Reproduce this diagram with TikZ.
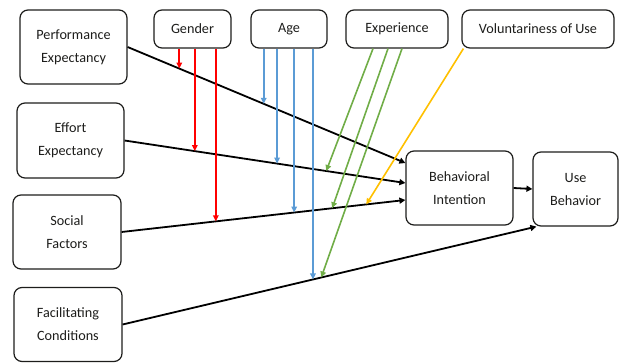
\documentclass[tikz,border=0pt]{standalone}
\usepackage{fontspec}
\setmainfont{Carlito}
\usepackage{tikz}
\usetikzlibrary{arrows.meta,calc}
\definecolor{ink}{HTML}{1D1D1B}
\definecolor{modred}{HTML}{FF0000}
\definecolor{modblue}{HTML}{5B9BD5}
\definecolor{modgreen}{HTML}{70AD47}
\definecolor{modorange}{HTML}{FFC000}
\tikzset{
  box/.style={draw=ink, rounded corners=8pt, align=center, line width=1.2pt, text=ink,
    font=\fontsize{14.2}{23}\selectfont, inner sep=2pt},
  modbox/.style={box, minimum height=38pt},
  arr/.style={-{Triangle[length=6pt,width=6pt]}, line width=1.8pt, draw=black},
  modarr/.style={-{Triangle[length=6pt,width=5.5pt]}, line width=1.6pt, draw=#1},
}

\begin{document}
\begin{tikzpicture}[x=1pt, y=-1pt]
    \useasboundingbox (0,0) rectangle (621,363);
    % constructs
    \node[box, minimum width=107pt, minimum height=74pt] (pe) at (73.5,47) {Performance\\Expectancy};
    \node[box, minimum width=107pt, minimum height=75pt] (ee) at (70.5,140.5) {Effort\\Expectancy};
    \node[box, minimum width=108pt, minimum height=74pt] (sf) at (67,232) {Social\\Factors};
    \node[box, minimum width=108pt, minimum height=74pt] (fc) at (68,324.5) {Facilitating\\Conditions};
    \node[box, minimum width=107pt, minimum height=74pt] (bi) at (459.5,188) {Behavioral\\Intention};
    \node[box, minimum width=85pt, minimum height=74pt] (ub) at (575.5,189) {Use\\Behavior};
    % moderators
    \node[modbox, minimum width=77pt] (gen) at (192.5,29) {Gender};
    \node[modbox, minimum width=76pt] (age) at (289,29) {Age};
    \node[modbox, minimum width=102pt] (exp) at (397,29) {Experience};
    \node[modbox, minimum width=152pt] (vol) at (538,29) {Voluntariness of Use};
    % main paths
    \draw[arr] (pe.east) -- ([yshift=25pt]bi.west)
      coordinate[pos=0.186] (pe1) coordinate[pos=0.49] (pe2);
    \draw[arr] (ee.east) -- ([yshift=5pt]bi.west)
      coordinate[pos=0.25] (ee1) coordinate[pos=0.543] (ee2) coordinate[pos=0.718] (ee3);
    \draw[arr] (sf.east) -- ([yshift=-12pt]bi.west)
      coordinate[pos=0.332] (sf1) coordinate[pos=0.608] (sf2) coordinate[pos=0.742] (sf3)
      coordinate[pos=0.862] (sf4);
    \draw[arr] (fc.east) -- ([xshift=4pt]ub.south west)
      coordinate[pos=0.46] (fc2) coordinate[pos=0.48] (fc3);
    \draw[arr] (bi.east) -- (ub.west);
    % moderating effects
    \foreach \p in {pe1,ee1,sf1} \draw[modarr=modred] (gen.south -| \p) -- (\p);
    \foreach \p in {pe2,ee2,sf2,fc2} \draw[modarr=modblue] (age.south -| \p) -- (\p);
    \foreach \d/\p in {-24/ee3,-9/sf3,5/fc3} \draw[modarr=modgreen] ([xshift=\d pt]exp.south) -- (\p);
    \draw[modarr=modorange] ([xshift=2pt]vol.south west) -- (sf4);
  \end{tikzpicture}
\end{document}
